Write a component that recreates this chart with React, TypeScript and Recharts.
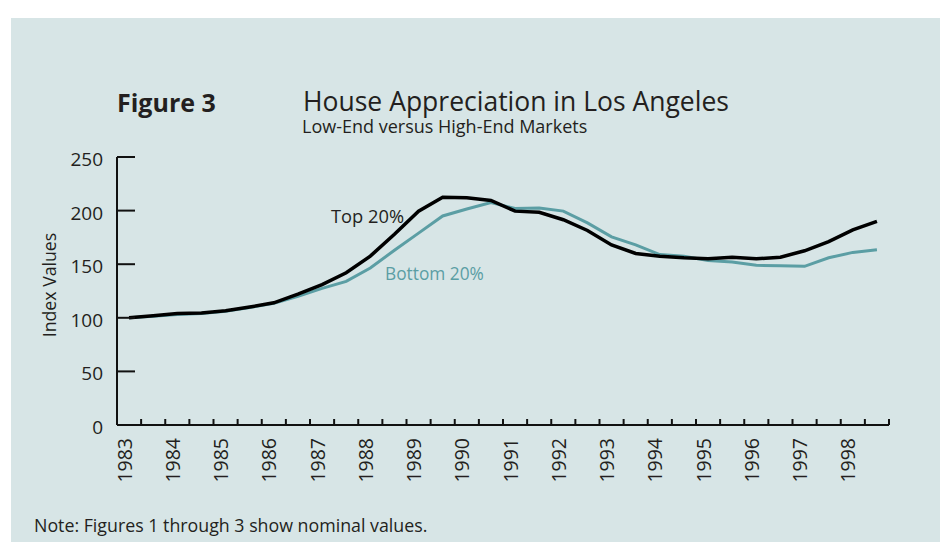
import React from 'react';
import { LineChart, Line, XAxis, YAxis } from 'recharts';

// Semi-annual periods, 1983.0 .. 1998.5
const periods = [
  1983, 1983.5, 1984, 1984.5, 1985, 1985.5, 1986, 1986.5,
  1987, 1987.5, 1988, 1988.5, 1989, 1989.5, 1990, 1990.5,
  1991, 1991.5, 1992, 1992.5, 1993, 1993.5, 1994, 1994.5,
  1995, 1995.5, 1996, 1996.5, 1997, 1997.5, 1998, 1998.5,
];

const top20 = [
  100, 102, 104, 104.5, 106.5, 110, 114, 122,
  131, 142, 157.5, 178, 199.5, 212.5, 212, 209.5,
  199.5, 198.5, 191.5, 181.5, 168, 160, 157.5, 156,
  155, 156.5, 155, 156.5, 162.5, 171, 182, 190,
];

const bottom20 = [
  100, 101.5, 103, 104, 106, 109.5, 113.5, 120,
  127.5, 134, 146.5, 163, 179, 195, 201.5, 207.5,
  202, 202.5, 199.5, 188.5, 175.5, 168, 159, 157.5,
  153.5, 152, 149, 148.5, 148, 156, 161, 163.5,
];

const yearLabels = [
  1983, 1984, 1985, 1986, 1987, 1988, 1989, 1990,
  1991, 1992, 1993, 1994, 1995, 1996, 1997, 1998,
];

const yTicks = [0, 50, 100, 150, 200, 250];

const data = periods.map((t, i) => ({ t, top: top20[i], bottom: bottom20[i] }));

// tick marks sit on the boundaries between semi-annual periods
const boundaryTicks = [...periods.map((p) => p - 0.25), periods[periods.length - 1] + 0.25];
const xTicks = [...boundaryTicks, ...yearLabels].sort((a, b) => a - b);

const FONT = "'Open Sans', 'Noto Sans', sans-serif";
const TEXT = '#231f20';
const TEAL = '#5b9ea4';
const BG = '#d7e5e6';

const XTick = (props: any) => {
  const { x, y, payload } = props;
  const v = payload.value;
  if (Number.isInteger(v)) {
    const ax = x + 2.5;
    const ay = y + 13;
    return (
      <text
        x={ax}
        y={ay}
        transform={`rotate(-90 ${ax} ${ay})`}
        textAnchor="end"
        fontFamily={FONT}
        fontSize={19.5}
        fill={TEXT}
      >
        {v}
      </text>
    );
  }
  return <line x1={x} y1={y} x2={x} y2={y - 6} stroke="#111" strokeWidth={2} />;
};

const YTick = (props: any) => {
  const { x, y, payload } = props;
  return (
    <g>
      <line x1={x} y1={y} x2={x + 18} y2={y} stroke="#111" strokeWidth={2} />
      <text x={x - 14} y={y + 9} textAnchor="end" fontFamily={FONT} fontSize={19} fill={TEXT}>
        {payload.value}
      </text>
    </g>
  );
};

export default function App() {
  return (
    <div style={{ position: 'absolute', left: 0, top: 0, width: 940, height: 542, background: '#fff', overflow: 'hidden' }}>
      <div style={{ position: 'absolute', left: 11, top: 18, right: 0, bottom: 0, background: BG }} />
      <div style={{ position: 'absolute', left: 0, top: 0 }}>
        <LineChart width={940} height={542} data={data} margin={{ top: 157, right: 51, bottom: 57, left: 57 }}>
          <XAxis
            dataKey="t"
            type="number"
            domain={[1982.75, 1998.75]}
            ticks={xTicks}
            interval={0}
            tickSize={0}
            tickMargin={0}
            height={60}
            tick={<XTick />}
            tickLine={false}
            axisLine={{ stroke: '#111', strokeWidth: 2 }}
          />
          <YAxis
            type="number"
            domain={[0, 250]}
            ticks={yTicks}
            interval={0}
            tickSize={0}
            tickMargin={0}
            width={60}
            tick={<YTick />}
            tickLine={false}
            axisLine={{ stroke: '#111', strokeWidth: 2 }}
          />
          <Line
            dataKey="bottom"
            type="linear"
            stroke={TEAL}
            strokeWidth={3}
            dot={false}
            isAnimationActive={false}
          />
          <Line
            dataKey="top"
            type="linear"
            stroke="#000"
            strokeWidth={3.5}
            dot={false}
            isAnimationActive={false}
          />
        </LineChart>
      </div>
      <svg width={940} height={542} style={{ position: 'absolute', left: 0, top: 0, pointerEvents: 'none' }}>
        <text x={117} y={112} fontFamily={FONT} fontSize={25} fontWeight={700} fill={TEXT}>Figure 3</text>
        <text x={303} y={110.5} fontFamily={FONT} fontSize={26.5} fill={TEXT}>House Appreciation in Los Angeles</text>
        <text x={302} y={133} fontFamily={FONT} fontSize={18} fill={TEXT}>Low-End versus High-End Markets</text>
        <text x={331} y={222.5} fontFamily={FONT} fontSize={18.3} fill={TEXT}>Top 20%</text>
        <text x={385} y={280} fontFamily={FONT} fontSize={17.3} fill={TEAL}>Bottom 20%</text>
        <text
          x={56}
          y={285}
          transform="rotate(-90 56 285)"
          textAnchor="middle"
          fontFamily={FONT}
          fontSize={17.7}
          fill={TEXT}
        >
          Index Values
        </text>
        <text x={34} y={531.7} fontFamily={FONT} fontSize={17.8} fill={TEXT}>Note: Figures 1 through 3 show nominal values.</text>
      </svg>
    </div>
  );
}
